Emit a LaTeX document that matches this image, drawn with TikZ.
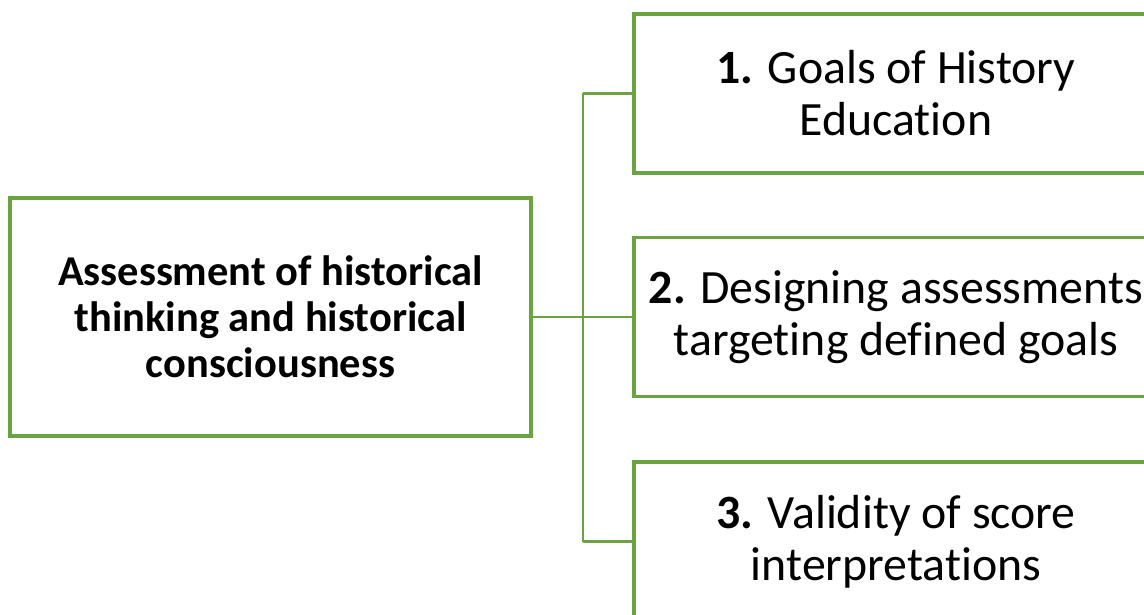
\documentclass[tikz,border=0pt]{standalone}
\usepackage{fontspec}
\setmainfont{Carlito}[Ligatures={NoCommon}]
\definecolor{leaf}{RGB}{106,164,66}
\begin{document}
\begin{tikzpicture}[x=1pt,y=-1pt,
  topic/.style={draw=leaf, line width=3.2pt, fill=white, align=center,
    minimum width=521pt, minimum height=238pt, inner sep=0pt,
    font=\fontsize{42.5}{46}\selectfont\bfseries},
  item/.style={draw=leaf, line width=3.2pt, fill=white, align=center,
    minimum width=524pt, minimum height=159pt, inner sep=0pt,
    font=\fontsize{47.8}{52}\selectfont},
  link/.style={draw=leaf, line width=2.2pt}]
\useasboundingbox (0,0) rectangle (1144,615);
\clip (0,0) rectangle (1144,615);
\coordinate (bus) at (583,317);
\coordinate (bus1) at (583,93.5);
\coordinate (bus3) at (583,541.5);
% connectors
\draw[link] (531,317) -- (bus);
\draw[link] (bus1) -- (bus3);
\node[topic] (root) at (270.5,317) {Assessment of historical\\thinking and historical\\consciousness};
\node[item] (g1) at (896,93.5) {\textbf{1.} Goals of History\\Education};
\node[item] (g2) at (896,317) {\textbf{2.} Designing assessments\\targeting defined goals};
\node[item] (g3) at (896,541.5) {\textbf{3.} Validity of score\\interpretations};
\draw[link] (bus1) -- (g1.west);
\draw[link] (bus) -- (g2.west);
\draw[link] (bus3) -- (g3.west);
\end{tikzpicture}
\end{document}
